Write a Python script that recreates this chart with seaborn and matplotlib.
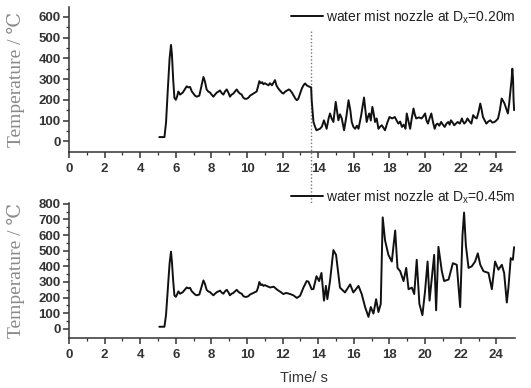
import matplotlib
matplotlib.use("Agg")
import matplotlib.pyplot as plt
import seaborn as sns
import numpy as np
import pandas as pd

# ---------------- data ----------------
t_top = [5.07, 5.36, 5.45, 5.55, 5.65, 5.73, 5.78, 5.85, 5.92, 6.0, 6.07, 6.14, 6.24, 6.32, 6.39, 6.5,
         6.61, 6.7, 6.8, 6.9, 6.99, 7.08, 7.17, 7.32, 7.45, 7.55, 7.63, 7.73, 7.82, 7.92, 8.01, 8.11,
         8.2, 8.3, 8.4, 8.48, 8.58, 8.67, 8.76, 8.86, 8.95, 9.04, 9.13, 9.23, 9.32, 9.42, 9.51, 9.6,
         9.7, 9.79, 9.88, 9.98, 10.08, 10.17, 10.26, 10.35, 10.45, 10.54, 10.62, 10.69, 10.78, 10.85,
         10.92, 11.0, 11.1, 11.2, 11.29, 11.4, 11.5, 11.57, 11.65, 11.75, 11.85, 11.95, 12.04, 12.15,
         12.25, 12.35, 12.42, 12.52, 12.62, 12.72, 12.8, 12.88, 12.98, 13.08, 13.17, 13.26, 13.35,
         13.45, 13.54, 13.6, 13.63, 13.73, 13.82, 13.9, 14.09, 14.2, 14.32, 14.47, 14.58, 14.66,
         14.75, 14.85, 14.98, 15.05, 15.13, 15.22, 15.32, 15.45, 15.58, 15.7, 15.8, 15.88, 15.97,
         16.07, 16.17, 16.26, 16.4, 16.57, 16.65, 16.72, 16.8, 16.87, 16.95, 17.04, 17.12, 17.19,
         17.28, 17.38, 17.47, 17.57, 17.66, 17.75, 17.88, 18.0, 18.15, 18.3, 18.4, 18.5, 18.6, 18.7,
         18.8, 18.9, 18.97, 19.06, 19.16, 19.25, 19.35, 19.42, 19.5, 19.65, 19.8, 19.9, 20.0, 20.08,
         20.16, 20.25, 20.35, 20.45, 20.54, 20.62, 20.7, 20.8, 20.9, 21.0, 21.1, 21.2, 21.3, 21.38,
         21.45, 21.55, 21.64, 21.73, 21.83, 21.95, 22.07, 22.13, 22.2, 22.3, 22.38, 22.5, 22.6, 22.7,
         22.8, 22.9, 23.0, 23.1, 23.18, 23.25, 23.35, 23.44, 23.55, 23.66, 23.78, 23.9, 24.0, 24.1,
         24.2, 24.3, 24.38, 24.46, 24.55, 24.65, 24.72, 24.8, 24.86, 24.9, 24.94, 24.97, 25.0]
temp_top = [20, 20, 90, 250, 400, 465, 420, 300, 210, 200, 215, 240, 225, 230, 235, 250,
            265, 260, 262, 240, 230, 220, 215, 220, 270, 310, 290, 250, 240, 235, 225, 215,
            225, 235, 240, 245, 232, 225, 240, 250, 235, 215, 225, 230, 240, 250, 238, 230,
            225, 210, 205, 205, 210, 220, 225, 230, 235, 240, 265, 290, 280, 285,
            275, 280, 275, 270, 280, 270, 285, 295, 270, 255, 245, 235, 230, 240,
            245, 250, 246, 235, 220, 205, 198, 205, 230, 255, 270, 279, 270,
            265, 262, 260, 200, 93, 70, 53, 60, 70, 101, 60, 110, 134,
            110, 93, 190, 150, 101, 130, 110, 53, 120, 198, 150, 93, 70,
            60, 75, 60, 120, 211, 150, 93, 120, 134, 100, 166, 130, 93,
            110, 60, 70, 77, 65, 53, 90, 117, 110, 117, 100, 85, 95, 69,
            80, 60, 134, 100, 60, 110, 158, 130, 110, 115, 110, 120, 134, 100,
            85, 110, 134, 90, 60, 80, 85, 75, 93, 80, 69, 85, 93, 80,
            101, 90, 77, 85, 93, 85, 110, 95, 85, 95, 110, 95, 85, 126,
            115, 110, 140, 182, 150, 117, 100, 85, 95, 101, 90, 93, 100, 110,
            150, 206, 195, 182, 160, 134, 180, 246, 300, 350, 300, 200, 150]

t_bot = [5.07, 5.36, 5.45, 5.55, 5.65, 5.73, 5.78, 5.85, 5.92, 6.0, 6.07, 6.14, 6.24, 6.32, 6.39, 6.5,
         6.61, 6.7, 6.8, 6.9, 6.99, 7.08, 7.17, 7.32, 7.45, 7.55, 7.63, 7.73, 7.82, 7.92, 8.01, 8.11,
         8.2, 8.3, 8.4, 8.48, 8.58, 8.67, 8.76, 8.86, 8.95, 9.04, 9.13, 9.23, 9.32, 9.42, 9.51, 9.6,
         9.7, 9.79, 9.88, 9.98, 10.08, 10.17, 10.26, 10.35, 10.45, 10.54, 10.62, 10.69, 10.78, 10.85,
         10.92, 11.0, 11.1, 11.29, 11.5, 11.7, 11.9, 12.04, 12.2, 12.42, 12.6, 12.8, 12.98, 13.17,
         13.35, 13.45, 13.63, 13.73, 13.9, 14.05, 14.18, 14.32, 14.43, 14.51, 14.66, 14.85, 15.0,
         15.22, 15.5, 15.79, 15.97, 16.26, 16.44, 16.63, 16.82, 16.95, 17.1, 17.25, 17.38, 17.51,
         17.62, 17.75, 17.94, 18.13, 18.32, 18.45, 18.6, 18.79, 18.94, 19.07, 19.26, 19.39, 19.53,
         19.68, 19.85, 20.0, 20.14, 20.25, 20.38, 20.51, 20.62, 20.75, 20.94, 21.07, 21.32, 21.56,
         21.78, 21.97, 22.1, 22.19, 22.29, 22.44, 22.62, 22.81, 22.96, 23.1, 23.28, 23.56, 23.75,
         23.93, 24.12, 24.31, 24.44, 24.59, 24.68, 24.81, 24.93, 25.0]
temp_bot = [14, 14, 90, 260, 420, 494, 430, 310, 215, 205, 220, 240, 225, 230, 235, 250,
            265, 260, 262, 240, 230, 220, 215, 220, 270, 310, 290, 250, 240, 235, 225, 215,
            225, 235, 240, 245, 232, 225, 240, 250, 235, 215, 225, 230, 240, 250, 238, 230,
            225, 210, 205, 205, 210, 220, 225, 230, 235, 240, 265, 300, 280, 285,
            275, 280, 275, 265, 270, 250, 235, 223, 230, 223, 215, 198, 212, 265,
            306, 302, 254, 255, 337, 306, 358, 181, 275, 190, 306, 504, 473,
            264, 233, 285, 233, 275, 223, 140, 77, 140, 98, 190, 108, 160,
            713, 567, 473, 431, 629, 390, 369, 306, 390, 254, 264, 223, 442,
            160, 88, 244, 431, 181, 327, 473, 119, 525, 369, 306, 316, 420,
            410, 140, 598, 744, 535, 390, 400, 431, 483, 410, 369, 358, 254,
            431, 379, 410, 358, 169, 264, 452, 442, 523]

yticks_top = [0, 100, 200, 300, 400, 500, 600]
yticks_bot = [0, 100, 200, 300, 400, 500, 600, 700, 800]
xticks = [0, 2, 4, 6, 8, 10, 12, 14, 16, 18, 20, 22, 24]
label_top = "water mist nozzle at D$_x$=0.20m"
label_bot = "water mist nozzle at D$_x$=0.45m"
ylabel = "Temperature / \u2103"
xlabel = "Time/ s"
water_on_time = 13.6

# ---------------- style ----------------
sns.set_theme(style="ticks")
plt.rcParams["font.family"] = ["Liberation Sans", "DejaVu Sans"]
plt.rcParams["mathtext.default"] = "regular"

W, H = 531, 388
fig = plt.figure(figsize=(W / 100, H / 100), dpi=100)

def ax_rect(left, right, top, bottom):
    return [left / W, 1 - bottom / H, (right - left) / W, (bottom - top) / H]

ax1 = fig.add_axes(ax_rect(69, 515, 7, 152))
ax2 = fig.add_axes(ax_rect(69, 515, 203, 338))

df_top = pd.DataFrame({"t": t_top, "T": temp_top})
df_bot = pd.DataFrame({"t": t_bot, "T": temp_bot})

line_color = "#111111"
sns.lineplot(data=df_top, x="t", y="T", ax=ax1, color=line_color, lw=1.4,
             sort=False, estimator=None, label=label_top)
sns.lineplot(data=df_bot, x="t", y="T", ax=ax2, color=line_color, lw=1.4,
             sort=False, estimator=None, label=label_bot)

tick_color = "#333333"
for ax, yt, ylim, leg_y in [(ax1, yticks_top, (-52, 648), 0.931),
                            (ax2, yticks_bot, (-58, 805), 1.044)]:
    sns.despine(ax=ax)
    ax.set_xlim(0, 25.05)
    ax.set_ylim(*ylim)
    ax.set_xticks(xticks)
    ax.set_yticks(yt)
    ax.set_xticks(np.arange(1, 25, 2), minor=True)
    ax.set_yticks(np.arange(50, yt[-1], 100), minor=True)
    for s in ["left", "bottom"]:
        ax.spines[s].set_color("#333333")
        ax.spines[s].set_linewidth(1.1)
    ax.tick_params(axis="both", which="major", direction="out", length=4, width=1.1,
                   colors="#333333", labelcolor=tick_color, labelsize=9.5, pad=2)
    ax.tick_params(axis="x", which="major", pad=4)
    ax.tick_params(axis="both", which="minor", direction="out", length=2.5, width=0.9,
                   colors="#333333")
    for lab in ax.get_xticklabels() + ax.get_yticklabels():
        lab.set_fontweight("bold")
    ax.set_ylabel(ylabel, family=["Liberation Serif", "DejaVu Serif"], fontsize=14,
                  color="#8a8a8a")
    ax.yaxis.set_label_coords(-0.098, 0.5)
    ax.set_xlabel("")
    leg = ax.legend(loc="center left", bbox_to_anchor=(0.497, leg_y), frameon=False,
                    borderpad=0, borderaxespad=0, handlelength=2.3, handletextpad=0.25,
                    prop={"size": 10})
    for txt in leg.get_texts():
        txt.set_color("#222222")
    for h in leg.get_lines():
        h.set_linewidth(1.4)
    ax.grid(False)

ax2.set_xlabel(xlabel, fontsize=10.5, color="#333333")
ax2.xaxis.set_label_coords(0.527, -0.245)

# dotted vertical line marking water-mist activation, spanning both panels
ax1.axvline(water_on_time, ymin=(152 - 338) / 145, ymax=(152 - 30) / 145, color="#777777",
            lw=1.0, ls=(0, (1, 1.5)), clip_on=False, zorder=0)

fig.savefig("out.png", dpi=100)
